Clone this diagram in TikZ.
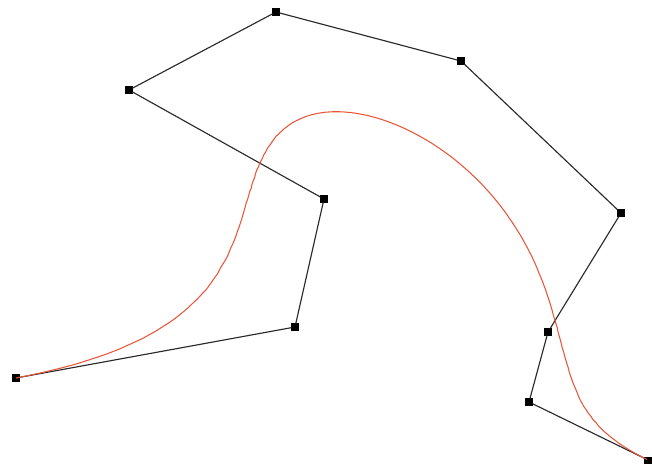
\documentclass[tikz,border=0pt]{standalone}
\usepackage{tikz}
\usetikzlibrary{positioning}
\definecolor{cred}{HTML}{E8553A}
\definecolor{cgray}{HTML}{2A2A2A}
\tikzset{
  ctrl/.style={fill=black, draw=none, minimum size=4pt, inner sep=0pt, outer sep=0pt},
  poly/.style={draw=cgray, line width=0.65pt},
  bezcurve/.style={draw=cred, line width=0.6pt},
  declare function={
    bx(\t)=(1-\t)^9*16 + 9*(1-\t)^8*\t*295 + 36*(1-\t)^7*\t^2*324
      + 84*(1-\t)^6*\t^3*129 + 126*(1-\t)^5*\t^4*276 + 126*(1-\t)^4*\t^5*461
      + 84*(1-\t)^3*\t^6*621 + 36*(1-\t)^2*\t^7*548 + 9*(1-\t)*\t^8*529 + \t^9*648;
    by(\t)=(1-\t)^9*378 + 9*(1-\t)^8*\t*327 + 36*(1-\t)^7*\t^2*199
      + 84*(1-\t)^6*\t^3*90 + 126*(1-\t)^5*\t^4*12 + 126*(1-\t)^4*\t^5*61
      + 84*(1-\t)^3*\t^6*213 + 36*(1-\t)^2*\t^7*332 + 9*(1-\t)*\t^8*402 + \t^9*460;
  }
}

\begin{document}
\begin{tikzpicture}[x=0.02cm, y=-0.02cm]
  \useasboundingbox (0,0) rectangle (652,468);
  % control points
  \foreach \i/\px/\py in {0/16/378, 1/295/327, 2/324/199, 3/129/90, 4/276/12,
      5/461/61, 6/621/213, 7/548/332, 8/529/402, 9/648/460}
    \node[ctrl] (p\i) at (\px,\py) {};
  % control polygon
  \draw[poly] (p0) -- (p1) -- (p2) -- (p3) -- (p4) -- (p5) -- (p6) -- (p7) -- (p8) -- (p9);
  % degree 9 curve
  \draw[bezcurve] plot[domain=0:1, samples=200, variable=\t] ({bx(\t)}, {by(\t)});
\end{tikzpicture}
\end{document}
